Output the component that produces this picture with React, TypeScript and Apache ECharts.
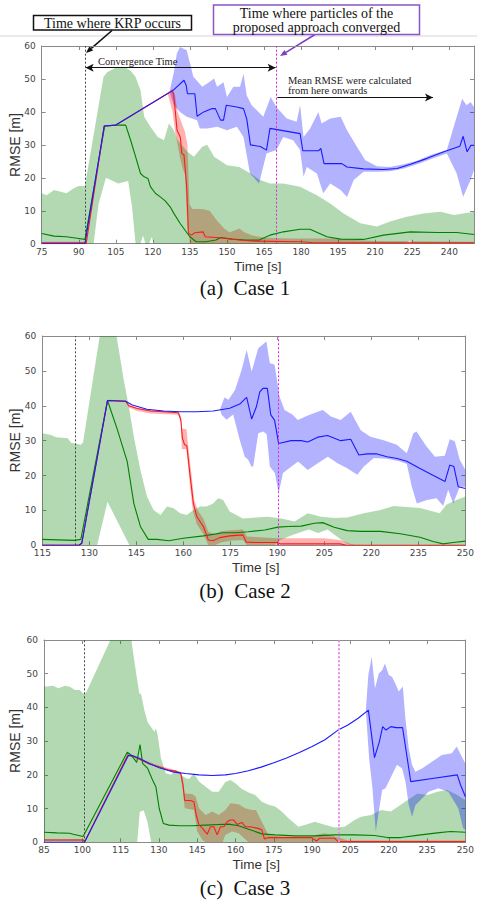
import React, { useEffect, useRef } from 'react';
import * as echarts from 'echarts';

type P = [number, number];

// ---------- Case 1 ----------
const c1XTicks = [75, 90, 105, 120, 135, 150, 165, 180, 195, 210, 225, 240];
const c1KrpTime = 92.5;
const c1ConvTime = 170;
const c1MeanArrowEnd = 233.4;
const c1GreenUpper: P[] = [[75,15.3],[77,14.7],[80,16.3],[85,15.3],[88,16.8],[90,17.5],[92.5,17.5],[100,50.6],[101.5,52],[105.5,53.6],[108.6,53.6],[111,52.5],[113,50.6],[115,46.6],[116.5,38.5],[119,35.5],[122,32.4],[124.5,31.4],[126.5,36.5],[128.5,34.4],[130,31.4],[134,27.9],[136.6,26.4],[140,29.4],[142,30],[144.8,26.4],[150,23.8],[155,23.3],[159.5,21.3],[163,19.5],[167.4,18.3],[172.8,18.3],[179.6,17.3],[186.4,14.7],[191.8,12.2],[197.2,9.2],[204,6.2],[210.7,5.2],[216,6.7],[222.8,8.2],[229.6,9.2],[236.4,9.7],[241.8,8.7],[250,9.7]];
const c1GreenLower: P[] = [[75,0],[96,0],[98,12],[101,20],[106,18.3],[110,19],[111.6,11],[113,0],[115,0],[116,2.5],[117,0],[118.5,0],[119.5,2],[120.5,0],[222,0],[224,1],[226,0],[250,0]];
const c1GreenMean: P[] = [[75,3.1],[80,2.3],[85,2.1],[90,1.6],[92.5,1.3],[100.5,35.7],[105.5,36],[109,36],[111,31.4],[113,26.4],[115,21.3],[116.5,20.3],[118,19.8],[119,17.3],[121,15.3],[123,14.2],[125,13],[127,11.2],[128.5,9.2],[131,6.2],[134,3.1],[135,2.1],[137.5,0.6],[141.5,0.6],[145.5,1.1],[147.5,1.9],[152,1.4],[157.5,1.1],[163,1.1],[167.4,2.6],[172.8,3.6],[179.6,4.4],[183.6,4.4],[190.5,2.1],[196,1.4],[205.3,1.3],[213.4,2.6],[224.2,3.6],[235,3.4],[243,3.4],[250,2.8]];
const c1RedMean: P[] = [[75,0.3],[92.5,0.3],[93,0],[100.3,35.7],[105,36],[127.8,46.4],[128.4,45.5],[129.1,40],[129.8,34.4],[131.1,32.4],[131.7,27.4],[132.6,26.9],[133.7,17.3],[134.4,3.1],[135.6,2.6],[137,3.3],[140.3,3.6],[141.2,2.1],[145.7,1.9],[149.8,1.6],[155,1.1],[160,0.8],[180,0.6],[185,0.3],[250,0.3]];
const c1RedUpper: P[] = [[75,0.6],[92.5,0.6],[100.3,35.8],[105,36.1],[126,45.8],[128,47],[129,45],[130,40],[131,38],[132,36],[133,34],[134,30],[134.8,12],[136,10.5],[140,10.5],[143,10],[146,7],[149,4.5],[151,3.5],[153,4],[155,4.6],[157,3.5],[160,2.6],[165,1.8],[175,1.6],[195,1.6],[200,1.2],[210,0.8],[250,0.6]];
const c1RedLower: P[] = [[75,0],[92.5,0],[100.3,35.6],[105,35.9],[126,45.4],[128,40],[129,34],[130,30],[131,26],[132,23],[133,21],[134,5],[135,0],[250,0]];
const c1BlueMean: P[] = [[75,0],[92.5,0],[100.3,35.7],[105,36],[128.3,46.6],[129.7,47.6],[132.6,49.6],[133.5,48],[134,45.5],[137,45.5],[137.9,38.7],[140.6,40],[144,41],[145.3,41],[147.4,37.5],[148.6,37.5],[149.7,42],[154,41.5],[156.7,41],[158,37.9],[159.5,30],[163.5,29.5],[166,28.4],[167.4,35],[179.6,33.4],[180.7,28.2],[187,28.2],[188,28.9],[189.3,24.3],[196.5,24.3],[198.6,23.3],[205.3,22.7],[213.4,22.5],[218.9,22.8],[224.3,24.1],[231,25.9],[237.8,27.9],[244.3,29.6],[245.6,32.6],[247.2,27.9],[248.8,29.9],[250,29.9]];
const c1BlueUpper: P[] = [[127,47],[128.5,52],[129.7,57.7],[131,59.7],[133.7,58.7],[136.4,50.7],[140,47.6],[142,48.6],[144.8,50.1],[146,47.6],[148.6,49],[150,44.5],[152.6,47.6],[155.3,47.6],[156.7,51.6],[158,45],[160,42],[164.7,38.5],[167.7,44.5],[170,41.5],[174.2,38],[178.2,37],[179.6,42],[181,32.4],[183.6,34.9],[187,40],[188.3,36.5],[191.8,38],[196,38.5],[198.6,34.4],[202.6,29.4],[206,25.3],[210.7,23.5],[216,23.3],[221.6,24.1],[227,25.2],[232.4,26.9],[239,28.4],[241.8,35.5],[245.2,44],[247,42],[248.6,43],[250,41.5]];
const c1BlueLower: P[] = [[127,45.5],[128.5,42],[131,40],[133.7,38.5],[137.9,37.5],[139,35],[142,35],[146,35.5],[150,34.4],[154,35.5],[156.7,32.4],[159.3,21.3],[163,18.3],[166,27.4],[170,28.4],[172.8,32.4],[176.8,31.4],[179.6,28.4],[181,20.3],[182.3,23.3],[186.4,21.3],[189,15.3],[191.8,18.3],[196,16.3],[198.6,14.2],[201.3,19.3],[205.3,21.8],[210.7,21.8],[216,22],[221.6,22.8],[227,24.1],[232.4,25.6],[239,27.4],[243,21.3],[245.6,14.2],[248.6,19.3],[250,22.3]];

// ---------- Case 2 ----------
const c2XTicks = [115, 130, 145, 160, 175, 190, 205, 220, 235, 250];
const c2KrpTime = 125.6;
const c2ConvTime = 190.4;
const c2GreenUpper: P[] = [[115,32.1],[117.8,31.6],[119.4,31],[123.1,30.7],[124.2,29.4],[127.3,28.8],[128,29.5],[133.5,61],[136,72],[138.5,61],[141,47.4],[142.6,39.8],[144.2,31.2],[146.3,21.6],[148.4,14],[150.5,10.1],[152.7,8.7],[154.8,11.1],[156.9,10.6],[159,9.2],[161.1,8.7],[163.2,10.1],[165.3,11.1],[167.4,11.1],[169.5,12],[171.1,13.5],[172.7,13],[174.8,9.7],[176.9,8.7],[179,7.7],[183.2,8],[187,8.2],[191.3,7.7],[195.5,6.8],[199.7,9.2],[203.9,8.2],[208.1,7.8],[212.3,8],[217.6,9.2],[222.9,10.1],[227.1,11.3],[231.3,11],[235.5,10.7],[239.7,9.7],[241.8,9.2],[243.9,11.6],[247.1,13],[250,14]];
const c2GreenLower: P[] = [[115,0],[132.5,0],[135.8,12.5],[142.8,0],[189,0],[191,1.5],[195,3],[200,4.5],[203,3.5],[206,4.5],[209,2.5],[212,0.5],[214,0],[250,0]];
const c2GreenMean: P[] = [[115,1.7],[125.2,1.4],[127.3,1.7],[135.8,41.5],[139,33],[142.1,24],[144.2,12],[146.3,5.4],[148.8,1.7],[151.6,1.7],[155.3,1.3],[160,2],[166.4,2.7],[172.7,3.6],[176.9,3.6],[180.7,3.9],[186,4.4],[190.2,5.2],[193.4,5.4],[197.6,5.5],[201.8,6.3],[204.5,6.5],[208.1,5.2],[212.3,4.2],[216.6,4],[222.9,4],[229.2,3.3],[235.5,2.3],[239.7,1.1],[242.9,0.4],[246.1,0.8],[250,1.2]];
const c2RedMean: P[] = [[115,0],[126.7,0],[127.6,0.6],[135.8,41.5],[141.6,41.3],[142.6,40],[145.3,39.2],[149.5,38.5],[153.7,38.3],[158.4,38],[159.2,36],[159.7,30.7],[160.4,28.8],[161.1,28.6],[162.2,19.7],[163.2,12],[164.3,8.2],[166.4,5.4],[168,1.5],[169.5,1.3],[171.6,2.2],[174.8,2.7],[179,3],[180.1,0.9],[183.2,0.8],[190,0.8],[191,0.4],[210,0.4],[212,0],[250,0]];
const c2RedUpper: P[] = [[115,0.2],[126.7,0.2],[127.6,0.8],[135.8,41.7],[141.6,41.6],[142.6,40.3],[145,39.5],[149.5,38.8],[158.4,38.3],[159.2,37],[159.5,33.5],[161,33.3],[161.5,29],[162.5,21],[163.5,13],[164.5,10.2],[166.5,7.5],[168,3.8],[170,3.2],[172,4],[175,4.3],[179,4.5],[180.3,2.5],[190,2],[200,2],[205,2],[210,1.5],[213,0.5],[215,0],[250,0]];
const c2RedLower: P[] = [[115,0],[127.6,0.4],[135.8,41.3],[141.6,41],[142.6,39.5],[145,38.6],[149.5,37.8],[158.4,37.4],[159.2,35],[159.5,27.5],[161,27.5],[162,18],[163,10],[164.3,6],[166.4,3.2],[168,0],[170,0],[172,0.8],[175,1.3],[179,1.5],[180.3,0],[250,0]];
const c2BlueMean: P[] = [[115,0],[126.7,0],[127.6,0.6],[135.8,41.5],[141.6,41.3],[143.7,40.2],[148.4,39],[153.7,38.5],[159,38.3],[164.3,38.3],[169.5,38.5],[174.8,39.3],[178,40.5],[180.2,42.4],[181.8,36.2],[183.3,39.7],[184.4,44],[185.4,45],[186.8,45],[187.9,37.4],[189.1,35.9],[190.4,29.2],[194.4,30],[197.6,30],[199.7,29.6],[202.9,31],[206,31.5],[210.2,30],[213.4,30.4],[216,25.9],[218.7,26.2],[221.8,26.2],[225,25.4],[228.2,24.9],[231.3,24.1],[235.5,22],[239.8,20],[243.5,18.3],[245,23],[246.3,22.6],[247.7,16.8],[250,16.3]];
const c2BlueUpper: P[] = [[171.7,39],[173.1,42.4],[174.4,41.7],[176.5,44.5],[178.6,50.3],[180.2,56],[181.8,49.8],[183.9,56.5],[186.5,58.4],[187.6,52.2],[189.1,51.8],[190.7,42.6],[192.3,38.8],[194.9,37.4],[196.5,35.9],[199.7,37.2],[202.9,38.3],[204.5,38.8],[207.1,36.9],[210.2,35.9],[213.4,38.3],[216.6,33],[219.7,31.1],[223.9,30.1],[228.1,28.8],[231.3,26.4],[233.4,32.1],[234.4,32.6],[237.6,28.3],[240.3,25.4],[243.4,25.7],[245,30.4],[246.6,29.8],[248.2,24.5],[250,21.6]];
const c2BlueLower: P[] = [[171.7,39],[172.2,37.4],[173.8,36],[175.9,37.5],[178,30.2],[179.6,25.4],[180.7,24.5],[181.7,22.6],[182.3,22.6],[183.9,32.1],[185.5,32.6],[186.6,31.8],[187.6,22.6],[189.2,20.7],[190.4,14.9],[191.8,20.7],[194.5,22.6],[196.6,24],[199.7,21.6],[202.9,23.5],[206.1,25.4],[209.2,23.5],[212.3,22.1],[215.5,20.2],[217.6,22.6],[220.8,25],[225,24.8],[229.2,24],[231.3,23.3],[232.9,16.8],[234.5,12],[237.7,13],[240.8,13.5],[242.9,11.3],[244.5,15.9],[246.1,12],[248.2,16.8],[250,16.8]];

// ---------- Case 3 ----------
const c3XTicks = [85, 100, 115, 130, 145, 160, 175, 190, 205, 220, 235, 250];
const c3KrpTime = 100.7;
const c3ConvTime = 200.4;
const c3GreenUpper: P[] = [[85,46.1],[88.6,46.4],[90.6,45.7],[93.2,46.4],[95.1,46.1],[97.1,45.2],[99,45.2],[100.7,43.9],[101.6,44.6],[111.3,60.5],[115,66],[119.1,60.5],[120.4,53.6],[121.4,48.6],[122.3,44.2],[123,44],[124.3,39.2],[125.6,35.6],[128.2,32.8],[128.8,33.8],[129.5,31.8],[130.8,24.9],[132.7,20.5],[134.7,20],[136.6,21.4],[138.5,20],[140.5,19],[141.8,18.8],[143.7,20.5],[145.7,18],[148.3,16.5],[150.9,15],[153.4,15],[156,17.9],[158,18.5],[159.9,17.5],[162.5,15.8],[165.1,14.8],[167.7,14],[170.3,12],[172.9,11.1],[175.5,10.6],[178.1,9.1],[180.7,7.1],[184.6,4.6],[187.1,5.1],[191,6.1],[194.9,5.2],[198.8,4.4],[202.7,4.6],[206.6,6.6],[209.2,7.6],[213.1,8.1],[217,9.6],[220.8,9.1],[224.7,11.1],[227.3,12.5],[231.2,14.5],[235.1,14],[239,15],[242.9,15.5],[246.8,14],[250,12.5]];
const c3GreenLower: P[] = [[85,0],[121.5,0],[122.5,9],[124,9.5],[125.5,6],[127,0],[250,0]];
const c3GreenMean: P[] = [[85,3],[90,2.8],[95,2.7],[96.4,2.4],[100.3,1.7],[117.6,26.7],[119.1,25.9],[121.3,23.7],[122.6,29],[123.6,23.4],[125.6,21.9],[127.5,18.5],[128.8,16.5],[130.1,10.1],[131.7,5.6],[134,5.1],[137.9,4.9],[143.1,4.9],[148.3,5.1],[153.4,5.3],[157.3,5.4],[161.2,4.9],[165.1,3.9],[170.3,2.5],[175.5,2.2],[183.3,1.9],[191,1.9],[198.8,2.2],[206.6,2.2],[214.4,2],[219.5,1.4],[224.7,1.4],[232.5,2.2],[239,2.8],[244.2,3.2],[250,3]];
const c3RedMean: P[] = [[85,0.7],[100.5,0.7],[100.8,0],[117.8,25.9],[119.7,25.7],[122.3,24.7],[126.2,23.2],[130.1,22.4],[134,21.4],[136.6,21.1],[138.5,20.5],[139.4,17],[140.1,12.4],[142.4,12.4],[143.7,12],[144.6,8.1],[145.7,5.1],[147,4.2],[148.9,2.4],[150.2,4.6],[151.5,4.6],[152.8,2.2],[154.1,4.6],[155.4,4.6],[156.7,6.1],[158,6.6],[159.3,6.6],[160.6,5.3],[162.5,5.9],[163.8,4.6],[165.8,4.6],[167.1,4.4],[168.4,4.2],[169.7,3.9],[170.3,3.7],[171.3,1],[172.9,1.4],[180.7,1.4],[189.8,1.4],[191.7,0.4],[193,1.2],[198.8,1.2],[200.1,0.2],[250,0.2]];
const c3RedUpper: P[] = [[85,1],[100.5,1],[100.8,0.2],[117.8,26.1],[122.3,25],[130.1,22.7],[138.5,21],[139.4,19],[140.1,14.5],[143.1,14.3],[144.4,13.5],[145.7,10.1],[148.3,8.1],[150.9,9.1],[153.4,8.1],[156,9.6],[158,11.6],[161.2,11.3],[163.8,10.1],[166.4,9.6],[168,9.6],[170.3,6.1],[172.9,2.2],[178.1,1.7],[189.8,1.7],[192.4,2.4],[194.9,2.7],[198.8,1.7],[201.4,1.2],[204,0.5],[250,0.5]];
const c3RedLower: P[] = [[85,0.4],[100.5,0.4],[100.8,0],[117.8,25.7],[122.3,24.4],[130.1,22.1],[138.5,20],[139.4,15],[140.1,10.1],[143.7,9.6],[145,3.2],[147,0.7],[148.3,0],[154.9,0],[156,2.2],[158.6,3.2],[161.2,2.7],[165.1,0],[250,0]];
const c3BlueMean: P[] = [[85,0],[100.9,0],[118,25.7],[119.7,25.7],[122.3,24.9],[126.2,23.4],[130.1,22.1],[135.3,20.9],[140.5,20.4],[145.7,20],[150.9,19.8],[156,20],[160,20.4],[165,21.2],[170,22.3],[175,23.6],[180,25],[185,26.6],[190,28.4],[195,30.4],[200,33.2],[204,34.8],[208,36.8],[212,39.2],[214.4,25.1],[216.3,29.8],[217.6,34.3],[218.9,33.3],[220.8,34.3],[222.8,34],[225.4,34],[228.6,18],[237.7,19],[246.8,20],[248.1,17],[250,13.5]];
const c3BlueUpper: P[] = [[211,39.2],[212,49.6],[213.3,55],[214.6,45.7],[216.1,50.1],[217.4,51],[218.5,53],[220,49.6],[221.3,49],[222.6,47],[223.9,44.7],[225.5,46.2],[226.5,36.8],[227.8,27.9],[229.1,23],[230.4,20.9],[233,21.9],[236.9,23.9],[240.8,25.9],[244.7,26.4],[246.6,28.4],[248.6,25.4],[250,23.4]];
const c3BlueLower: P[] = [[211,39.2],[212.3,24.9],[213.6,16],[214.9,3.2],[216.1,9.1],[217.4,15.5],[218.7,16],[221.3,20],[223.2,23],[225.2,21.9],[226.5,18],[227.8,11.1],[229.1,7.6],[230.4,11],[233,13],[235.6,15],[239.4,16],[243.3,15],[247.2,10.1],[249.1,4.2],[250,3.7]];

const GREEN = '#008000';
const RED = '#ff1a1a';
const BLUE = '#1a1aff';
const GREEN_BAND = 'rgba(0,128,0,0.3)';
const RED_BAND = 'rgba(255,0,0,0.3)';
const BLUE_BAND = 'rgba(0,0,255,0.3)';
const AXIS_GRAY = '#8a8a8a';
const SANS = 'DejaVu Sans';
const SERIF = 'Liberation Serif';

function band(upper: P[], lower: P[], color: string, idx: number) {
  return {
    type: 'custom',
    coordinateSystem: 'cartesian2d',
    xAxisIndex: idx * 2,
    yAxisIndex: idx * 2,
    clip: true,
    silent: true,
    data: [upper[0]],
    encode: { x: 0, y: 1 },
    renderItem: (params: any, api: any) => {
      if (params.dataIndex !== 0) return null;
      const pts = upper.map((p) => api.coord(p)).concat(lower.slice().reverse().map((p) => api.coord(p)));
      return { type: 'polygon', shape: { points: pts }, style: { fill: color } };
    },
  };
}

function line(data: P[], color: string, idx: number, extra: any = {}) {
  return {
    type: 'line',
    xAxisIndex: idx * 2,
    yAxisIndex: idx * 2,
    data,
    showSymbol: false,
    symbol: 'none',
    clip: true,
    silent: true,
    lineStyle: { color, width: 1.1 },
    ...extra,
  };
}

function vlines(krp: number, conv: number, convColor: string, convWidth: number) {
  return {
    silent: true,
    symbol: ['none', 'none'],
    label: { show: false },
    data: [
      { xAxis: krp, lineStyle: { color: '#444', type: [2, 2], width: 1 } },
      { xAxis: conv, lineStyle: { color: convColor, type: [2, 2], width: convWidth } },
    ],
  };
}

function arrow(x1: number, y1: number, x2: number, y2: number, color: string) {
  const dx = x2 - x1, dy = y2 - y1, L = Math.hypot(dx, dy);
  const ux = dx / L, uy = dy / L;
  const bx = x2 - 7 * ux, by = y2 - 7 * uy;
  const px = -uy, py = ux;
  return [
    { type: 'line', shape: { x1, y1, x2: bx, y2: by }, style: { stroke: color, lineWidth: 1.6 } },
    { type: 'polygon', shape: { points: [[x2, y2], [bx + 2.8 * px, by + 2.8 * py], [bx - 2.8 * px, by - 2.8 * py]] }, style: { fill: color } },
  ];
}

const grids = [
  { left: 41.7, top: 46, width: 432.3, height: 197.7 },
  { left: 42.3, top: 336, width: 426.7, height: 209.3 },
  { left: 44, top: 640, width: 424.3, height: 202.3 },
];
const xRanges: [number, number, number[]][] = [
  [75, 250, c1XTicks],
  [115, 250, c2XTicks],
  [85, 250, c3XTicks],
];

export default function App() {
  const ref = useRef<HTMLDivElement>(null);
  useEffect(() => {
    if (!ref.current) return;
    const chart = echarts.init(ref.current, null, { renderer: 'svg' });

    const xAxis: any[] = [];
    const yAxis: any[] = [];
    xRanges.forEach(([min, max, ticks], i) => {
      const common = {
        type: 'value', gridIndex: i, min, max, interval: 15,
        splitLine: { show: false },
        axisLine: { show: true, onZero: false, lineStyle: { color: AXIS_GRAY, width: 1 } },
      };
      xAxis.push({
        ...common, position: 'bottom',
        axisTick: { show: true, inside: true, length: 4, lineStyle: { color: AXIS_GRAY }, customValues: ticks },
        axisLabel: { show: true, margin: 3, fontSize: 9, lineHeight: 10, fontFamily: SANS, color: '#444', customValues: ticks },
      });
      xAxis.push({
        ...common, position: 'top',
        axisTick: { show: true, inside: true, length: 4, lineStyle: { color: AXIS_GRAY }, customValues: ticks },
        axisLabel: { show: false },
      });
      const ycommon = {
        type: 'value', gridIndex: i, min: 0, max: 60, interval: 10,
        splitLine: { show: false },
        axisLine: { show: true, onZero: false, lineStyle: { color: AXIS_GRAY, width: 1 } },
        axisTick: { show: true, inside: true, length: 4, lineStyle: { color: AXIS_GRAY } },
      };
      yAxis.push({ ...ycommon, position: 'left', axisLabel: { show: true, margin: 6, fontSize: 9, fontFamily: SANS, color: '#444' } });
      yAxis.push({ ...ycommon, position: 'right', axisLabel: { show: false } });
    });

    const series: any[] = [
      // Case 1
      band(c1RedUpper, c1RedLower, RED_BAND, 0),
      band(c1GreenUpper, c1GreenLower, GREEN_BAND, 0),
      band(c1BlueUpper, c1BlueLower, BLUE_BAND, 0),
      line(c1GreenMean, GREEN, 0, { markLine: vlines(c1KrpTime, c1ConvTime, '#e020e0', 1) }),
      line(c1RedMean, RED, 0, {
        markLine: {
          silent: true, symbol: ['arrow', 'arrow'], symbolSize: [6, 8], label: { show: false },
          lineStyle: { color: '#111', type: 'solid', width: 1.2 },
          data: [[{ coord: [c1KrpTime + 0.3, 53.4] }, { coord: [c1ConvTime - 0.3, 53.4] }]],
        },
      }),
      line(c1BlueMean, BLUE, 0, {
        markLine: {
          silent: true, symbol: ['none', 'arrow'], symbolSize: [6, 8], label: { show: false },
          lineStyle: { color: '#111', type: 'solid', width: 1.2 },
          data: [[{ coord: [c1ConvTime + 0.4, 44.4] }, { coord: [c1MeanArrowEnd, 44.4] }]],
        },
      }),
      // Case 2
      band(c2RedUpper, c2RedLower, RED_BAND, 1),
      band(c2GreenUpper, c2GreenLower, GREEN_BAND, 1),
      band(c2BlueUpper, c2BlueLower, BLUE_BAND, 1),
      line(c2GreenMean, GREEN, 1, { markLine: vlines(c2KrpTime, c2ConvTime, '#e020e0', 1) }),
      line(c2RedMean, RED, 1),
      line(c2BlueMean, BLUE, 1),
      // Case 3
      band(c3RedUpper, c3RedLower, RED_BAND, 2),
      band(c3GreenUpper, c3GreenLower, GREEN_BAND, 2),
      band(c3BlueUpper, c3BlueLower, BLUE_BAND, 2),
      line(c3GreenMean, GREEN, 2, { markLine: vlines(c3KrpTime, c3ConvTime, '#e58ae5', 2) }),
      line(c3RedMean, RED, 2),
      line(c3BlueMean, BLUE, 2),
    ];

    const axisNames: any[] = [];
    const rmseY = [145, 440.6, 741];
    const timeY = [266, 567, 864];
    const capY = [288, 591, 888];
    const caps = ['(a)  Case 1', '(b)  Case 2', '(c)  Case 3'];
    grids.forEach((g, i) => {
      axisNames.push({
        type: 'text', x: 15, y: rmseY[i], rotation: Math.PI / 2,
        style: { text: 'RMSE [m]', font: `14px "Liberation Sans"`, fill: '#333', align: 'center', verticalAlign: 'middle' },
      });
      axisNames.push({
        type: 'text', x: g.left + g.width / 2, y: timeY[i],
        style: { text: 'Time [s]', font: `13.5px "Liberation Sans"`, fill: '#333', align: 'center', verticalAlign: 'middle' },
      });
      axisNames.push({
        type: 'text', x: 245, y: capY[i],
        style: { text: caps[i], font: `21px "${SERIF}"`, fill: '#111', align: 'center', verticalAlign: 'middle' },
      });
    });

    const graphic: any[] = [
      { type: 'line', shape: { x1: 0, y1: 36, x2: 477, y2: 36 }, style: { stroke: '#d6d6d6', lineWidth: 1 } },
      ...arrow(112, 30.5, 86, 53, '#111'),
      ...arrow(315, 34.5, 280, 56, '#7d3fbf'),
      { type: 'rect', shape: { x: 33.5, y: 15.5, width: 158, height: 14.5 }, style: { fill: '#fff', stroke: '#111', lineWidth: 1.5 } },
      { type: 'text', x: 112.5, y: 23, style: { text: 'Time where KRP occurs', font: `14px "${SERIF}"`, fill: '#111', align: 'center', verticalAlign: 'middle' } },
      { type: 'rect', shape: { x: 213.5, y: 5, width: 206, height: 29.5 }, style: { fill: '#fff', stroke: '#8a55c4', lineWidth: 1.5 } },
      { type: 'text', x: 316.5, y: 13, style: { text: 'Time where particles of the', font: `14px "${SERIF}"`, fill: '#111', align: 'center', verticalAlign: 'middle' } },
      { type: 'text', x: 316.5, y: 27, style: { text: 'proposed approach converged', font: `14px "${SERIF}"`, fill: '#111', align: 'center', verticalAlign: 'middle' } },
      { type: 'text', x: 98, y: 61, style: { text: 'Convergence Time', font: `10.5px "${SERIF}"`, fill: '#222', align: 'left', verticalAlign: 'middle' } },
      { type: 'text', x: 288, y: 80, style: { text: 'Mean RMSE were calculated', font: `10.5px "${SERIF}"`, fill: '#222', align: 'left', verticalAlign: 'middle' } },
      { type: 'text', x: 288, y: 90.5, style: { text: 'from here onwards', font: `10.5px "${SERIF}"`, fill: '#222', align: 'left', verticalAlign: 'middle' } },
      ...axisNames,
    ];

    chart.setOption({
      animation: false,
      backgroundColor: '#fff',
      grid: grids.map((g) => ({ ...g, containLabel: false })),
      xAxis,
      yAxis,
      series,
      graphic,
    });
    return () => chart.dispose();
  }, []);
  return <div ref={ref} style={{ position: 'absolute', left: 0, top: 0, width: 477, height: 900, background: '#fff' }} />;
}
